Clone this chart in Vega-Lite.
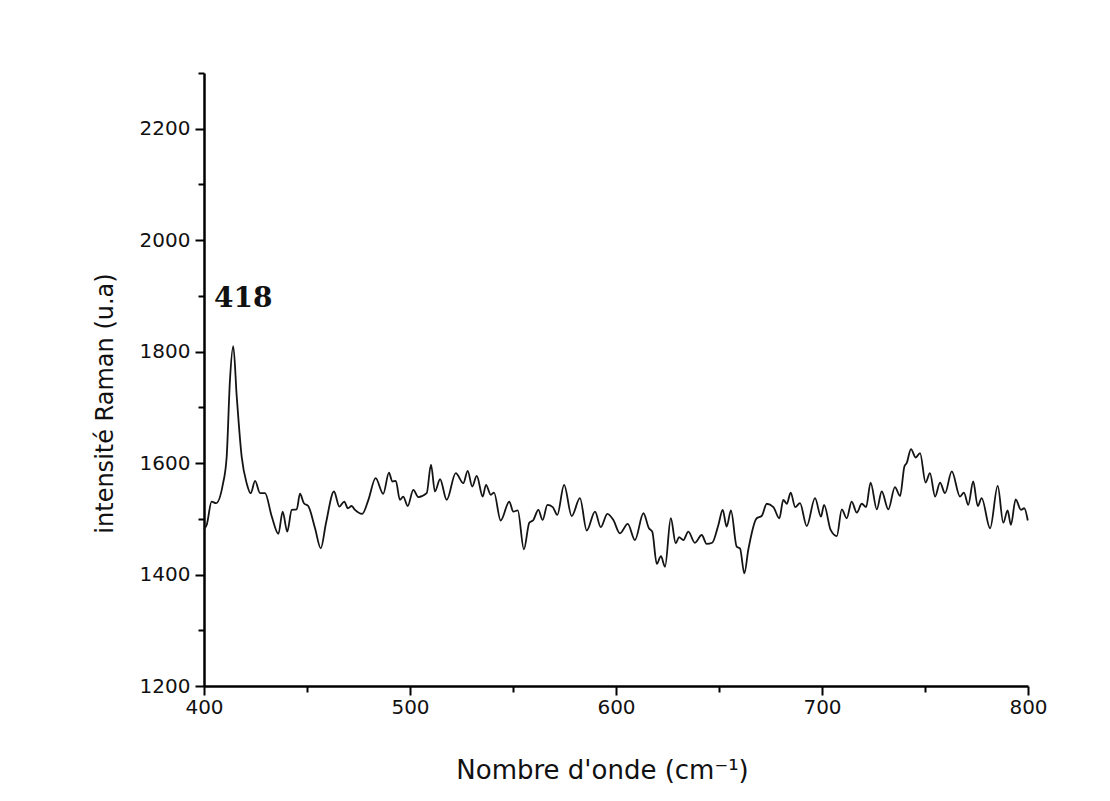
{
  "$schema": "https://vega.github.io/schema/vega-lite/v6.json",
  "width": 824,
  "height": 613,
  "autosize": {"type": "none"},
  "padding": {"left": 204, "top": 73, "right": 82, "bottom": 115},
  "background": "white",
  "config": {
    "view": {"stroke": null},
    "axis": {
      "grid": false,
      "domainColor": "black",
      "domainWidth": 2.5,
      "tickColor": "black",
      "tickWidth": 2,
      "labelFont": "DejaVu Sans",
      "labelFontSize": 20,
      "labelColor": "#111111",
      "titleFont": "DejaVu Sans",
      "titleFontWeight": "normal",
      "titleColor": "#111111",
      "labelOverlap": false,
      "labelFlush": false
    }
  },
  "layer": [
    {
      "data": {"values": [
        {"nu": 400.0, "I": 1482}, {"nu": 401.3, "I": 1489}, {"nu": 403.7, "I": 1531}, {"nu": 405.8, "I": 1528},
        {"nu": 409.1, "I": 1561}, {"nu": 411.0, "I": 1611}, {"nu": 412.6, "I": 1749}, {"nu": 414.2, "I": 1810},
        {"nu": 415.9, "I": 1719}, {"nu": 418.3, "I": 1611}, {"nu": 420.7, "I": 1564}, {"nu": 422.7, "I": 1546},
        {"nu": 424.8, "I": 1568}, {"nu": 427.2, "I": 1546}, {"nu": 429.6, "I": 1546}, {"nu": 432.9, "I": 1504},
        {"nu": 436.1, "I": 1473}, {"nu": 438.2, "I": 1513}, {"nu": 440.4, "I": 1477}, {"nu": 442.6, "I": 1516},
        {"nu": 445.0, "I": 1517}, {"nu": 446.6, "I": 1545}, {"nu": 448.5, "I": 1528}, {"nu": 450.6, "I": 1523},
        {"nu": 453.9, "I": 1483}, {"nu": 456.7, "I": 1447}, {"nu": 459.2, "I": 1492}, {"nu": 463.1, "I": 1549},
        {"nu": 465.7, "I": 1522}, {"nu": 468.1, "I": 1531}, {"nu": 469.8, "I": 1519}, {"nu": 471.7, "I": 1523},
        {"nu": 473.3, "I": 1516}, {"nu": 476.8, "I": 1509}, {"nu": 479.8, "I": 1534}, {"nu": 483.3, "I": 1573},
        {"nu": 487.0, "I": 1545}, {"nu": 489.8, "I": 1583}, {"nu": 491.4, "I": 1567}, {"nu": 493.1, "I": 1568},
        {"nu": 495.1, "I": 1534}, {"nu": 496.7, "I": 1540}, {"nu": 498.9, "I": 1523}, {"nu": 501.6, "I": 1552},
        {"nu": 504.0, "I": 1539}, {"nu": 508.1, "I": 1546}, {"nu": 510.2, "I": 1597}, {"nu": 512.1, "I": 1549},
        {"nu": 514.6, "I": 1571}, {"nu": 517.8, "I": 1534}, {"nu": 522.2, "I": 1582}, {"nu": 525.9, "I": 1564},
        {"nu": 528.0, "I": 1586}, {"nu": 530.2, "I": 1558}, {"nu": 532.4, "I": 1577}, {"nu": 535.3, "I": 1540},
        {"nu": 536.9, "I": 1561}, {"nu": 539.2, "I": 1543}, {"nu": 540.8, "I": 1547}, {"nu": 544.0, "I": 1497},
        {"nu": 548.2, "I": 1531}, {"nu": 550.1, "I": 1513}, {"nu": 552.3, "I": 1515}, {"nu": 555.3, "I": 1445},
        {"nu": 557.9, "I": 1493}, {"nu": 559.9, "I": 1498}, {"nu": 562.3, "I": 1516}, {"nu": 564.4, "I": 1498},
        {"nu": 566.7, "I": 1525}, {"nu": 569.3, "I": 1521}, {"nu": 571.5, "I": 1507}, {"nu": 574.8, "I": 1561},
        {"nu": 578.5, "I": 1505}, {"nu": 582.5, "I": 1537}, {"nu": 585.8, "I": 1479}, {"nu": 589.8, "I": 1513},
        {"nu": 592.6, "I": 1485}, {"nu": 595.8, "I": 1509}, {"nu": 598.7, "I": 1498}, {"nu": 601.9, "I": 1474},
        {"nu": 605.7, "I": 1491}, {"nu": 609.2, "I": 1462}, {"nu": 613.3, "I": 1510}, {"nu": 616.0, "I": 1483},
        {"nu": 617.6, "I": 1477}, {"nu": 619.8, "I": 1419}, {"nu": 621.8, "I": 1433}, {"nu": 623.8, "I": 1414},
        {"nu": 626.6, "I": 1501}, {"nu": 629.0, "I": 1456}, {"nu": 630.6, "I": 1467}, {"nu": 632.7, "I": 1462},
        {"nu": 635.1, "I": 1477}, {"nu": 638.3, "I": 1457}, {"nu": 641.6, "I": 1471}, {"nu": 644.0, "I": 1455},
        {"nu": 646.7, "I": 1457}, {"nu": 649.7, "I": 1489}, {"nu": 651.8, "I": 1516}, {"nu": 653.7, "I": 1486},
        {"nu": 655.8, "I": 1515}, {"nu": 658.6, "I": 1450}, {"nu": 660.2, "I": 1447}, {"nu": 662.3, "I": 1402},
        {"nu": 664.2, "I": 1444}, {"nu": 668.3, "I": 1501}, {"nu": 670.7, "I": 1505}, {"nu": 673.2, "I": 1527},
        {"nu": 676.4, "I": 1521}, {"nu": 679.3, "I": 1501}, {"nu": 681.2, "I": 1534}, {"nu": 682.9, "I": 1527},
        {"nu": 684.8, "I": 1547}, {"nu": 687.0, "I": 1521}, {"nu": 689.3, "I": 1528}, {"nu": 692.6, "I": 1487},
        {"nu": 696.6, "I": 1537}, {"nu": 699.5, "I": 1504}, {"nu": 701.0, "I": 1525}, {"nu": 704.2, "I": 1480},
        {"nu": 707.2, "I": 1469}, {"nu": 709.6, "I": 1517}, {"nu": 712.0, "I": 1501}, {"nu": 714.4, "I": 1531},
        {"nu": 716.9, "I": 1511}, {"nu": 719.3, "I": 1527}, {"nu": 721.4, "I": 1521}, {"nu": 723.6, "I": 1565},
        {"nu": 726.6, "I": 1517}, {"nu": 729.0, "I": 1549}, {"nu": 732.2, "I": 1517}, {"nu": 735.4, "I": 1557},
        {"nu": 737.9, "I": 1541}, {"nu": 740.0, "I": 1594}, {"nu": 741.1, "I": 1600}, {"nu": 743.2, "I": 1625},
        {"nu": 745.5, "I": 1610}, {"nu": 747.6, "I": 1618}, {"nu": 750.3, "I": 1565}, {"nu": 752.4, "I": 1582},
        {"nu": 754.9, "I": 1540}, {"nu": 757.3, "I": 1565}, {"nu": 759.7, "I": 1546}, {"nu": 763.0, "I": 1585},
        {"nu": 767.0, "I": 1540}, {"nu": 768.9, "I": 1547}, {"nu": 771.0, "I": 1525}, {"nu": 773.4, "I": 1567},
        {"nu": 775.6, "I": 1523}, {"nu": 777.5, "I": 1537}, {"nu": 781.6, "I": 1483}, {"nu": 785.3, "I": 1559},
        {"nu": 788.0, "I": 1493}, {"nu": 790.1, "I": 1515}, {"nu": 791.7, "I": 1489}, {"nu": 794.0, "I": 1535},
        {"nu": 796.6, "I": 1516}, {"nu": 798.2, "I": 1519}, {"nu": 799.9, "I": 1497}
      ]},
      "mark": {"type": "line", "interpolate": "monotone", "color": "#141414", "strokeWidth": 1.8},
      "encoding": {
        "x": {
          "field": "nu", "type": "quantitative",
          "scale": {"domain": [400, 800], "nice": false, "zero": false},
          "axis": {
            "values": [400, 450, 500, 550, 600, 650, 700, 750, 800],
            "labelExpr": "datum.value % 100 === 0 ? datum.label : ''",
            "tickSize": {"condition": {"test": "datum.value % 100 === 0", "value": 9}, "value": 6},
            "labelPadding": 2,
            "title": "Nombre d'onde (cm⁻¹)",
            "titleFontSize": 26,
            "titleBaseline": "middle",
            "titleAlign": "center",
            "titleX": 398,
            "titleY": 84
          }
        },
        "y": {
          "field": "I", "type": "quantitative",
          "scale": {"domain": [1200, 2300], "nice": false, "zero": false},
          "axis": {
            "values": [1200, 1300, 1400, 1500, 1600, 1700, 1800, 1900, 2000, 2100, 2200, 2300],
            "labelExpr": "datum.value % 200 === 0 ? datum.label : ''",
            "format": "d",
            "tickSize": {"condition": {"test": "datum.value % 200 === 0", "value": 9}, "value": 6},
            "labelPadding": 5,
            "title": "intensité Raman (u.a)",
            "titleFontSize": 24,
            "titleBaseline": "middle",
            "titleX": -99,
            "titleY": 330
          }
        }
      }
    },
    {
      "data": {"values": [{"nu": 419, "I": 1895, "label": "418"}]},
      "mark": {"type": "text", "font": "DejaVu Serif", "fontSize": 28, "fontWeight": "bold", "color": "#111111", "baseline": "middle", "align": "center"},
      "encoding": {
        "x": {"field": "nu", "type": "quantitative"},
        "y": {"field": "I", "type": "quantitative"},
        "text": {"field": "label"}
      }
    }
  ]
}
